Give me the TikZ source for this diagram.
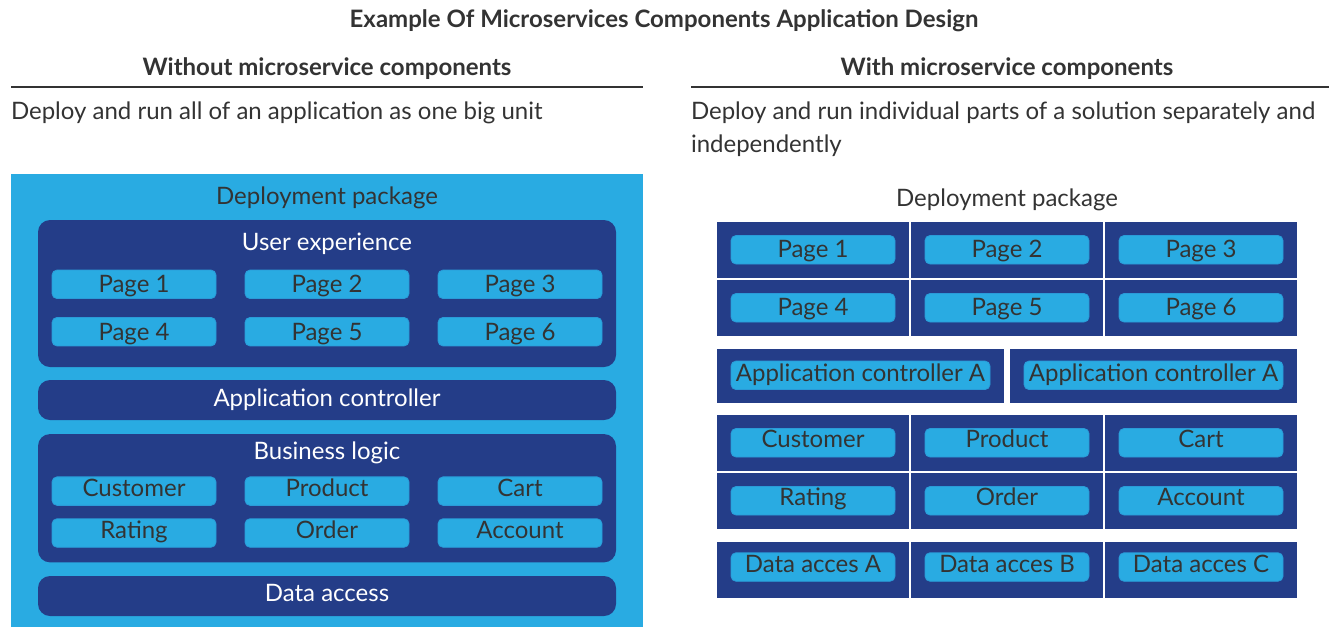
\documentclass[tikz,border=0pt]{standalone}
\usepackage{fontspec}
\setmainfont{Lato}
\definecolor{lblue}{HTML}{29ABE2}
\definecolor{dblue}{HTML}{243D88}
\definecolor{txt}{HTML}{333333}
\definecolor{pillb}{HTML}{2A9BD8}
\tikzset{
  every node/.style={inner sep=0pt, outer sep=0pt},
  ttl/.style={font=\fontsize{24}{28}\selectfont\bfseries, text=txt, text height=17.2pt, text depth=0pt},
  sub/.style={font=\fontsize{24}{28}\selectfont, text=txt, text height=17.2pt, text depth=0pt, anchor=west},
  lbl/.style={font=\fontsize{24}{28}\selectfont, text height=17.2pt, text depth=#1},
  lbl/.default=0pt,
  pill/.style={lbl=#1, fill=lblue, draw=pillb, line width=0.8pt, rounded corners=5pt, minimum width=164pt, minimum height=28.5pt, text=txt},
  pill/.default=0pt,
  wpill/.style={pill=#1, minimum width=259pt},
  wpill/.default=0pt,
  darkbox/.style={fill=dblue, rounded corners=12pt, minimum width=578pt, text=white},
  cell/.style={fill=dblue, minimum width=192pt, minimum height=55.5pt},
  wcell/.style={fill=dblue, minimum width=287pt, minimum height=54pt},
  rulestyle/.style={draw=txt, line width=2.5pt},
}
\begin{document}
\begin{tikzpicture}[x=1pt,y=-1pt]
\useasboundingbox (0,0) rectangle (1329,627);
% titles
\node[ttl] (title) at (664,19) {Example Of Microservices Components Application Design};
\node[ttl] (headL) at (327,67) {Without microservice components};
\node[ttl] (headR) at (1007,67) {With microservice components};
\coordinate (rL1) at (11,87); \coordinate (rL2) at (643,87);
\coordinate (rR1) at (691,87); \coordinate (rR2) at (1329,87);
\draw[rulestyle] (rL1) -- (rL2);
\draw[rulestyle] (rR1) -- (rR2);
\node[sub] (subL) at (11,111) {Deploy and run all of an application as one big unit};
\node[sub] (subR1) at (691,111) {Deploy and run individual parts of a solution separately and};
\node[sub] (subR2) at (691,144) {independently};

% ===== left: monolith =====
\node[fill=lblue, minimum width=632pt, minimum height=453pt] (pkgL) at (327,400.5) {};
\node[lbl, text=txt] (pkgLlbl) at (327,196) {Deployment package};

\node[darkbox, minimum height=147pt] (ux) at (327,293.5) {};
\node[lbl, text=white] (uxlbl) at (327,241.5) {User experience};
\node[pill] (lp1) at (134,284.3) {Page 1};
\node[pill] (lp2) at (327,284.3) {Page 2};
\node[pill] (lp3) at (520,284.3) {Page 3};
\node[pill] (lp4) at (134,331.7) {Page 4};
\node[pill] (lp5) at (327,331.7) {Page 5};
\node[pill] (lp6) at (520,331.7) {Page 6};

\node[darkbox, minimum height=40pt, lbl=4pt] (ctrl) at (327,400) {Application controller};

\node[darkbox, minimum height=128.3pt] (biz) at (327,498.2) {};
\node[lbl, text=white] (bizlbl) at (327,450.5) {Business logic};
\node[pill=6.6pt] (lb1) at (134,491.1) {Customer};
\node[pill=6.6pt] (lb2) at (327,491.1) {Product};
\node[pill=6.6pt] (lb3) at (520,491.1) {Cart};
\node[pill=6.6pt] (lb4) at (134,533) {Rating};
\node[pill=6.6pt] (lb5) at (327,533) {Order};
\node[pill=6.6pt] (lb6) at (520,533) {Account};

\node[darkbox, minimum height=40pt, lbl=7pt] (data) at (327,596) {Data access};

% ===== right: microservices =====
\node[lbl, text=txt] (pkgRlbl) at (1007,198) {Deployment package};

\node[cell] (c11) at (813,249.75) {};
\node[cell] (c12) at (1007,249.75) {};
\node[cell] (c13) at (1201,249.75) {};
\node[cell] (c21) at (813,307.75) {};
\node[cell] (c22) at (1007,307.75) {};
\node[cell] (c23) at (1201,307.75) {};
\node[pill=2pt] (rp1) at (c11) {Page 1};
\node[pill=2pt] (rp2) at (c12) {Page 2};
\node[pill=2pt] (rp3) at (c13) {Page 3};
\node[pill=2pt] (rp4) at (c21) {Page 4};
\node[pill=2pt] (rp5) at (c22) {Page 5};
\node[pill=2pt] (rp6) at (c23) {Page 6};

\node[wcell] (ca1) at (860.5,376) {};
\node[wcell] (ca2) at (1153.5,376) {};
\node[wpill=5pt] (ra1) at (860.5,375.3) {Application controller A};
\node[wpill=5pt] (ra2) at (1153.5,375.3) {Application controller A};

\node[cell] (c31) at (813,442.75) {};
\node[cell] (c32) at (1007,442.75) {};
\node[cell] (c33) at (1201,442.75) {};
\node[cell] (c41) at (813,500.75) {};
\node[cell] (c42) at (1007,500.75) {};
\node[cell] (c43) at (1201,500.75) {};
\node[pill=8pt] (rb1) at (c31) {Customer};
\node[pill=8pt] (rb2) at (c32) {Product};
\node[pill=8pt] (rb3) at (c33) {Cart};
\node[pill=8pt] (rb4) at (c41) {Rating};
\node[pill=8pt] (rb5) at (c42) {Order};
\node[pill=8pt] (rb6) at (c43) {Account};

\node[cell] (c51) at (813,569.75) {};
\node[cell] (c52) at (1007,569.75) {};
\node[cell] (c53) at (1201,569.75) {};
\node[pill=7pt] (rd1) at (813,567) {Data acces A};
\node[pill=7pt] (rd2) at (1007,567) {Data acces B};
\node[pill=7pt] (rd3) at (1201,567) {Data acces C};
\end{tikzpicture}
\end{document}
